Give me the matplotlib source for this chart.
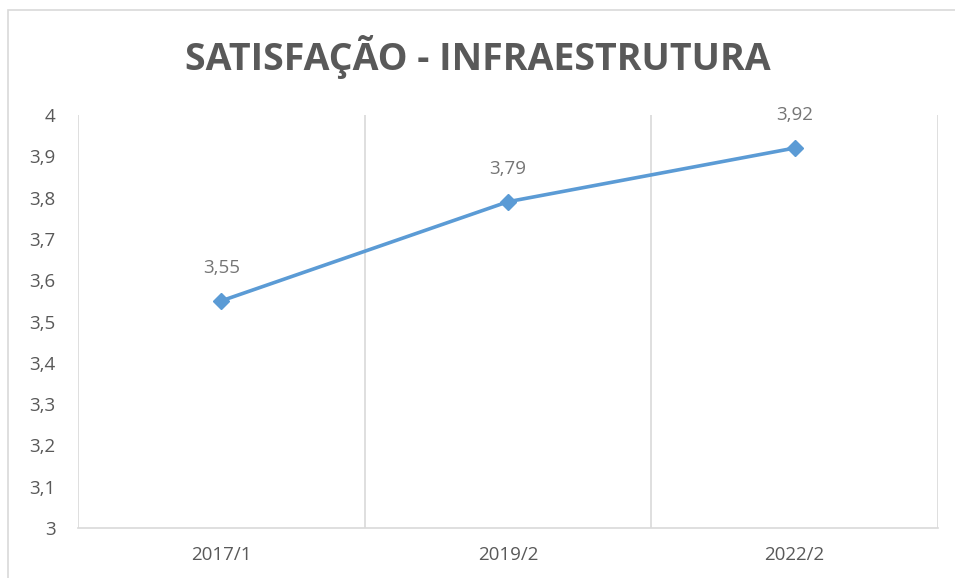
import matplotlib
matplotlib.use('Agg')
from matplotlib import pyplot as plt
from matplotlib.patches import Rectangle

## Data ##
periods = ['2017/1', '2019/2', '2022/2']
scores = [3.55, 3.79, 3.92]
y_ticks = [3.0, 3.1, 3.2, 3.3, 3.4, 3.5, 3.6, 3.7, 3.8, 3.9, 4.0]

plt.rcParams['font.family'] = ['Open Sans', 'DejaVu Sans']

grey_txt = '#595959'
grid_col = '#d9d9d9'
blue = '#5b9bd5'


def br(v):
    # brazilian decimal comma
    s = ('%.2f' % v).rstrip('0').rstrip('.')
    return s.replace('.', ',')


## Plotting ##
fig = plt.figure(figsize=(9.55, 5.78), dpi=100)
ax = fig.add_axes([0.0817, 0.0865, 0.9003, 0.7145])

# outer chart border (only top/left visible in the reference)
fig.patches.append(Rectangle((8 / 955, -0.1), 1.2, (1 - 10 / 578) + 0.1,
                             transform=fig.transFigure, fill=False,
                             edgecolor=grid_col, linewidth=1.2))

x = list(range(len(periods)))
ax.plot(x, scores, color=blue, linewidth=2.6, marker='D', markersize=8,
        zorder=3)
for xi, v in zip(x, scores):
    ax.annotate(br(v), (xi, v), xytext=(0, 17), textcoords='offset points',
                ha='center', va='bottom', fontsize=13.5, color='#757575')

ax.set_xlim(-0.5, len(periods) - 0.5)
ax.set_ylim(3, 4)
ax.set_yticks(y_ticks)
ax.set_yticklabels([br(t) for t in y_ticks], fontsize=13.5, color=grey_txt)
ax.set_xticks(x)
ax.set_xticklabels(periods, fontsize=13.5, color=grey_txt)
ax.tick_params(length=0)
ax.tick_params(axis='y', pad=16)
ax.tick_params(axis='x', pad=13)

# vertical separators between categories
for b in [i - 0.5 for i in range(len(periods) + 1)]:
    ax.axvline(b, color=grid_col, linewidth=1.2, zorder=1)
for s in ['top', 'right', 'left']:
    ax.spines[s].set_visible(False)
ax.spines['bottom'].set_color(grid_col)
ax.spines['bottom'].set_linewidth(1.2)

fig.text(0.5, 1 - 57 / 578, 'SATISFAÇÃO - INFRAESTRUTURA', ha='center',
         va='center', fontsize=27, fontweight='bold', color=grey_txt)

fig.savefig('out.png', dpi=100)
